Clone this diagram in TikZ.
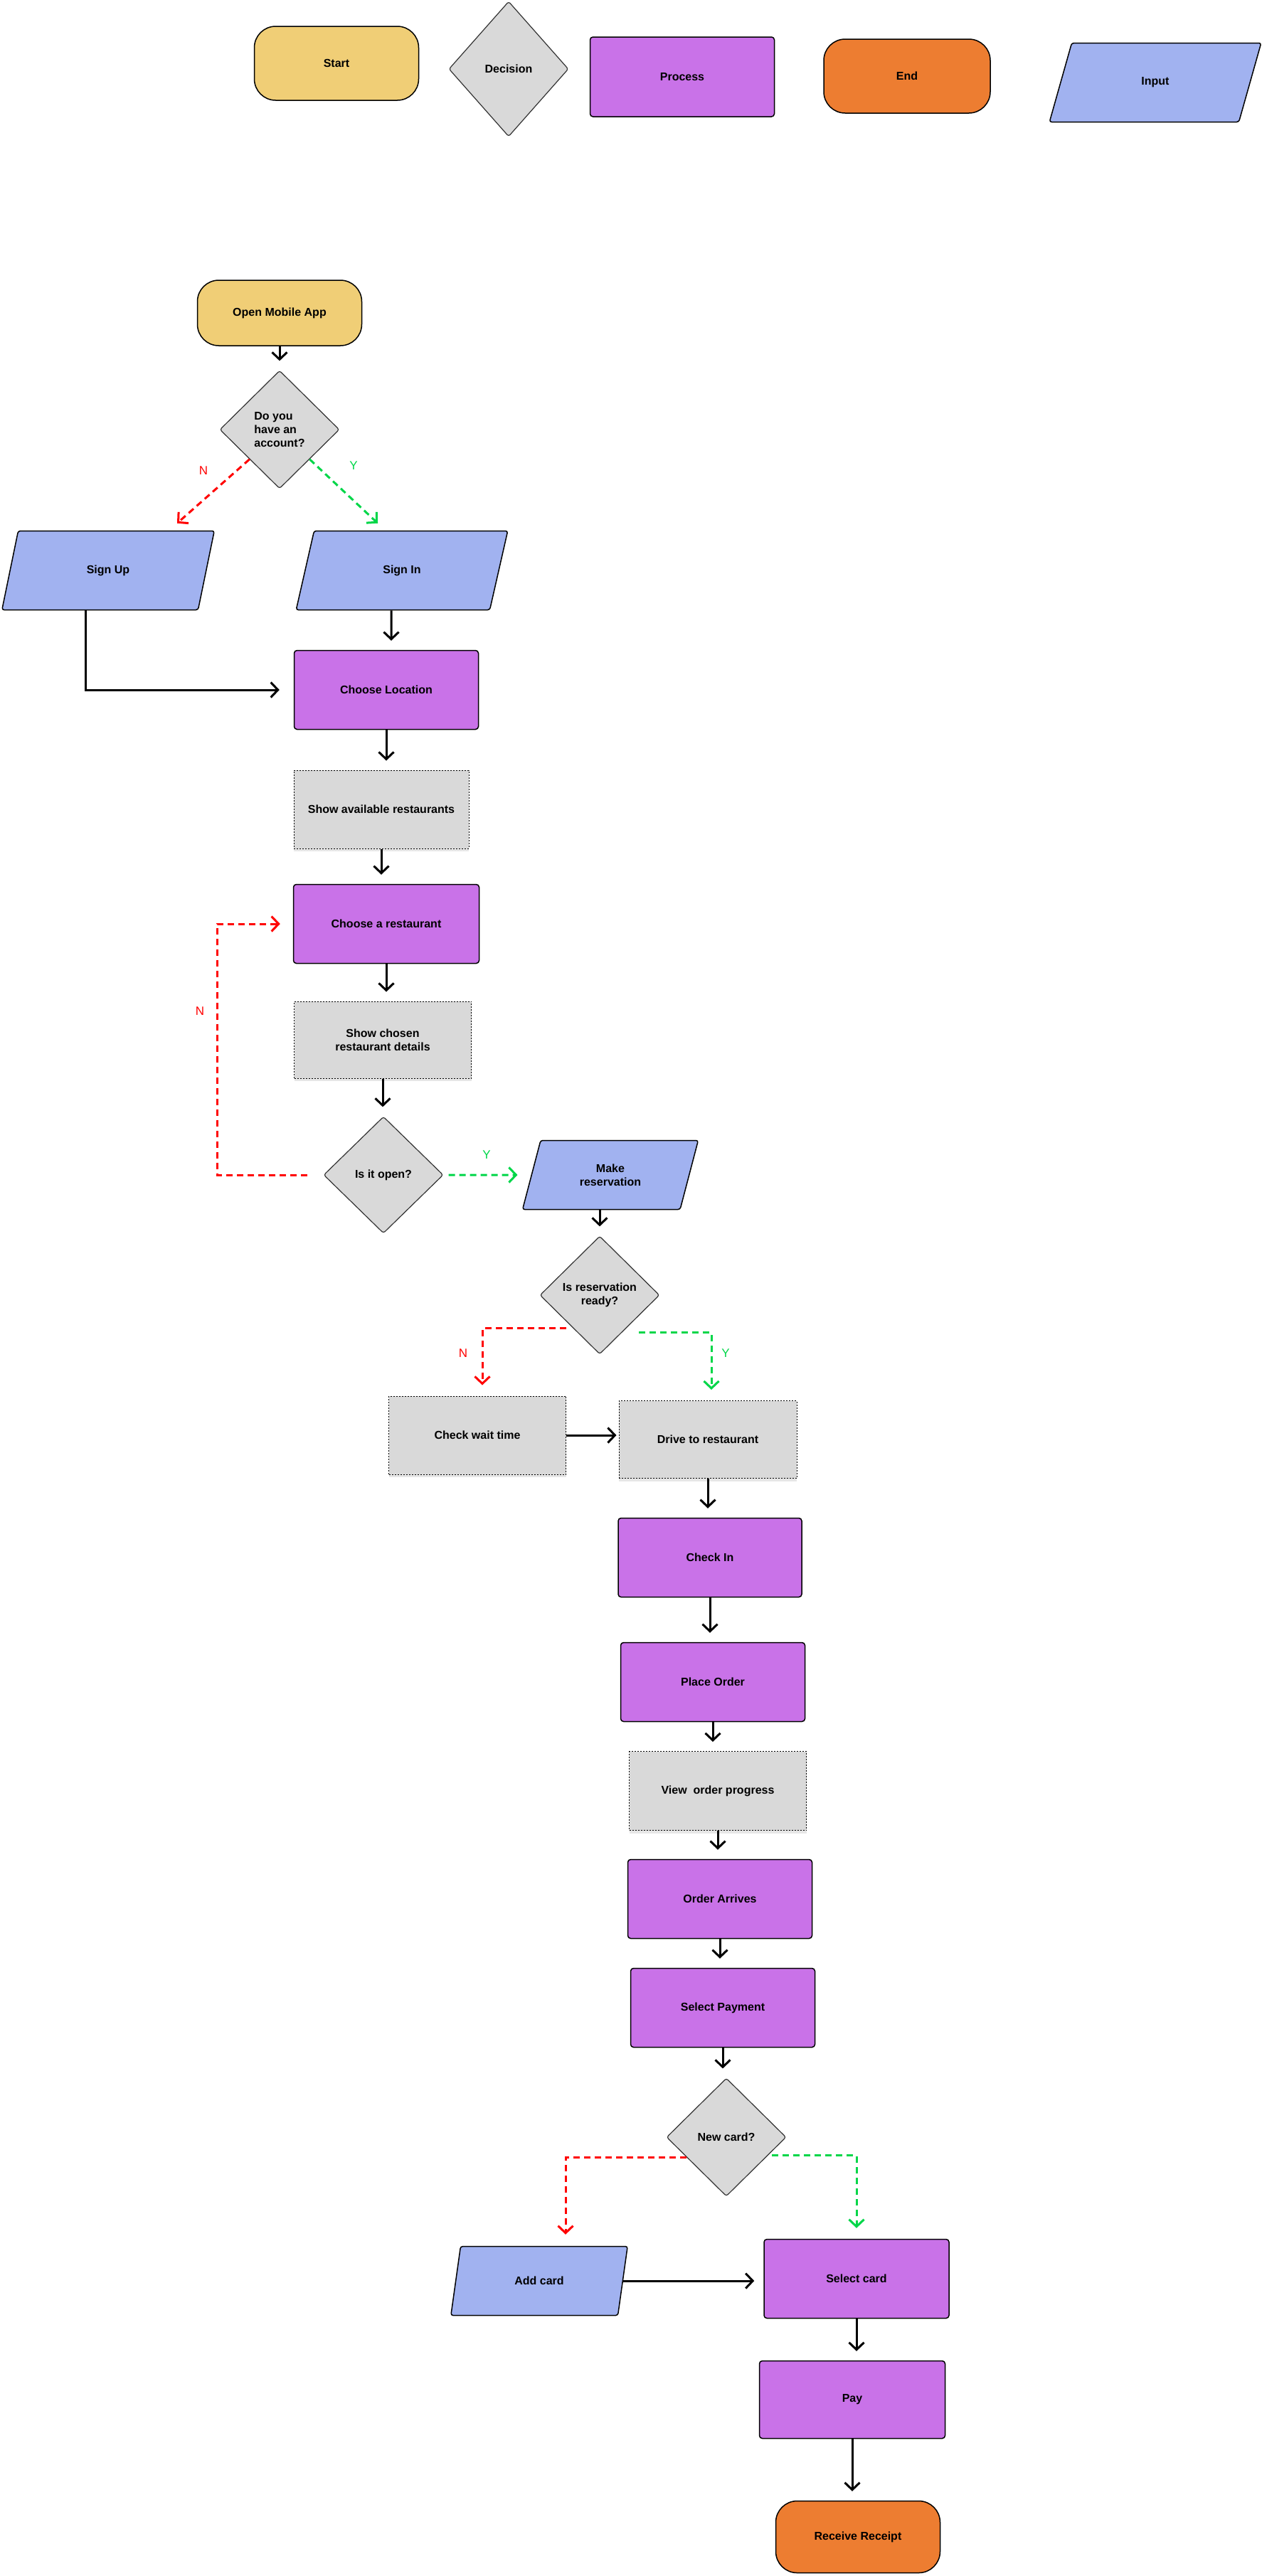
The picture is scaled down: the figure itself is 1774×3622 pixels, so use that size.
\documentclass[tikz,border=0pt]{standalone}
\usepackage{fontspec}
\setmainfont{Liberation Sans}
\usetikzlibrary{shapes.geometric, arrows.meta, shadows}

\definecolor{startyel}{RGB}{240,206,118}
\definecolor{decgray}{RGB}{217,217,217}
\definecolor{procpurp}{RGB}{201,114,232}
\definecolor{endorange}{RGB}{237,125,49}
\definecolor{inblue}{RGB}{161,178,240}
\definecolor{nored}{RGB}{255,0,0}
\definecolor{yesgreen}{RGB}{0,214,72}

\begin{document}
\begin{tikzpicture}[x=1pt, y=-1pt,
  every node/.style={font=\bfseries\fontsize{16}{19}\selectfont, inner sep=0pt, align=center},
  term/.style={draw=black, line width=1.5pt, rounded corners=30pt, minimum width=231pt, minimum height=100pt},
  dec/.style={diamond, draw=black!80, line width=1.2pt, fill=decgray, rounded corners=3pt, minimum width=168pt, minimum height=166pt},
  proc/.style={draw=black, line width=1.5pt, fill=procpurp, rounded corners=4pt, minimum width=259pt, minimum height=111pt},
  info/.style={draw=black, line width=1pt, dash pattern=on 2pt off 2pt, fill=decgray, minimum width=249pt, minimum height=110pt,
    drop shadow={shadow xshift=0pt, shadow yshift=-4pt, opacity=.2}},
  inp/.style={trapezium, trapezium left angle=70, trapezium right angle=110, trapezium stretches=true,
    draw=black, line width=1.5pt, fill=inblue, rounded corners=3pt, minimum width=299pt, minimum height=111pt},
  flow/.style={draw=black, line width=3pt, -{Straight Barb[length=10pt,width=21pt]}, shorten >=13pt},
  nopath/.style={draw=nored, line width=3pt, dash pattern=on 9pt off 6pt, -{Straight Barb[length=10pt,width=21pt]}},
  yespath/.style={nopath, draw=yesgreen},
  nlab/.style={font=\fontsize{17}{19}\selectfont, text=nored},
  ylab/.style={nlab, text=yesgreen}]
  \useasboundingbox (0,0) rectangle (1774,3622);

  % key
  \node[term, fill=startyel, minimum height=104pt] (kStart) at (473,89) {Start};
  \node[dec, minimum height=190pt] (kDec) at (715,97) {Decision};
  \node[proc, minimum height=112pt] (kProc) at (959,108) {Process};
  \node[term, fill=endorange, minimum width=234pt, minimum height=104pt] (kEnd) at (1275,107) {End};
  \node[inp] (kIn) at (1624,116) {Input};

  % flow
  \node[term, fill=startyel, minimum height=92pt] (open) at (393,440) {Open Mobile App};
  \node[dec, align=left] (acct) at (393,604) {Do you\\have an\\account?};
  \node[inp] (signup) at (152,802) {Sign Up};
  \node[inp] (signin) at (565,802) {Sign In};
  \node[proc] (loc) at (543,970) {Choose Location};
  \node[info, minimum width=246pt] (avail) at (536,1138) {Show available restaurants};
  \node[proc, minimum width=261pt] (choose) at (543,1299) {Choose a restaurant};
  \node[info, minimum height=108pt] (details) at (538,1462) {Show chosen\\restaurant details};
  \node[dec, minimum height=164pt] (isopen) at (539,1652) {Is it open?};
  \node[inp, minimum width=247pt, minimum height=97pt] (reserve) at (858,1652) {Make\\reservation};
  \node[dec] (ready) at (843,1821) {Is reservation\\ready?};
  \node[info] (wait) at (671,2018) {Check wait time};
  \node[info, minimum width=250pt, minimum height=109pt] (drive) at (995,2024) {Drive to restaurant};
  \node[proc, minimum width=258pt] (checkin) at (998,2190) {Check In};
  \node[proc] (order) at (1002,2365) {Place Order};
  \node[info, minimum height=111pt] (progress) at (1009,2518) {View\ \ order progress};
  \node[proc] (arrives) at (1012,2670) {Order Arrives};
  \node[proc] (payment) at (1016,2823) {Select Payment};
  \node[dec] (newcard) at (1021,3005) {New card?};
  \node[inp, minimum width=249pt, minimum height=97pt] (addcard) at (758,3207) {Add card};
  \node[proc, minimum width=260pt] (selcard) at (1204,3204) {Select card};
  \node[proc, minimum width=261pt, minimum height=109pt] (pay) at (1198,3374) {Pay};
  \node[term, fill=endorange, minimum height=101pt] (receipt) at (1206,3567) {Receive Receipt};

  \foreach \a/\b in {open/acct, loc/avail, avail/choose, choose/details, details/isopen,
      drive/checkin, checkin/order, order/progress, progress/arrives,
      arrives/payment, payment/newcard, selcard/pay, pay/receipt}
    \draw[flow] (\a.south) -- (\a.south |- \b.north);
  \draw[flow] (reserve.south -| ready.north) -- (ready.north);

  \draw[flow, shorten >=20pt] ([xshift=-32pt]signup.south) |- (loc.west);
  \draw[flow] ([xshift=-15pt]signin.south) -- ([xshift=7pt]loc.north);
  \draw[flow, shorten >=3pt] (wait.east) -- (wait.east -| drive.west);
  \draw[flow] (addcard.east) -- (addcard.east -| selcard.west);

  % yes / no branches
  \draw[nopath] (acct.south west) -- ([xshift=97pt,yshift=10pt]signup.north);
  \draw[yespath] (acct.south east) -- ([xshift=-34pt,yshift=10pt]signin.north);
  \node[nlab] (n1) at (286,662) {N};
  \node[ylab] (y1) at (497,655) {Y};
  \draw[nopath, shorten >=18pt] ([xshift=-22pt]isopen.west) -- ++(-127,0) |- (choose.west);
  \node[nlab] (n2) at (281,1422) {N};
  \draw[yespath, shorten <=7pt, shorten >=19pt] (isopen.east) -- (reserve.west);
  \node[ylab] (y2) at (684,1624) {Y};
  \draw[nopath] ([xshift=-5pt,yshift=-5pt]ready.south west) -| ([xshift=7pt,yshift=15pt]wait.north);
  \node[nlab] (n3) at (651,1903) {N};
  \draw[yespath] ([xshift=13pt,yshift=-11pt]ready.south east) -| ([xshift=5pt,yshift=15pt]drive.north);
  \node[ylab] (y3) at (1020,1903) {Y};
  \draw[nopath] ([xshift=-14pt,yshift=13pt]newcard.south west) -| ([xshift=37pt,yshift=16pt]addcard.north);
  \draw[yespath] ([xshift=22pt,yshift=16pt]newcard.south east) -| ([yshift=15pt]selcard.north);
\end{tikzpicture}
\end{document}
